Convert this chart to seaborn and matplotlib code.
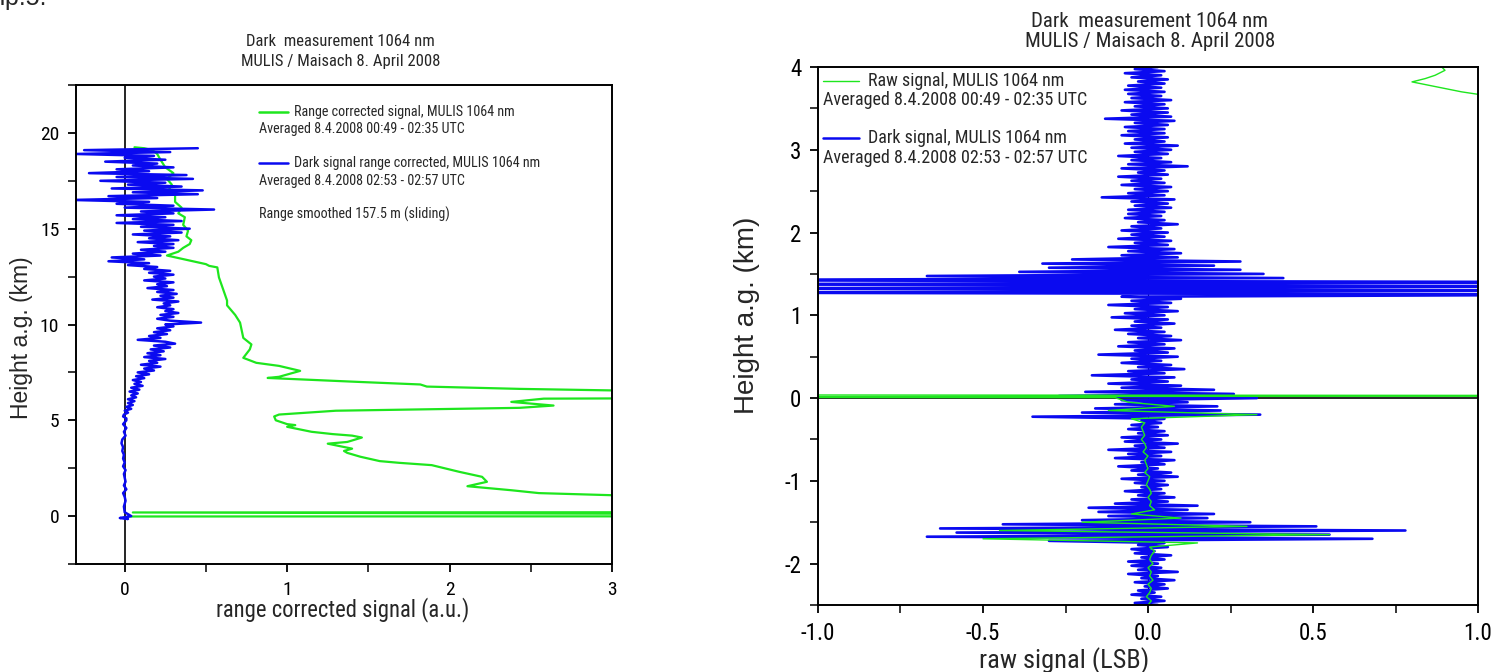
import os
import numpy as np
import matplotlib
matplotlib.use("Agg")
import matplotlib.pyplot as plt
from matplotlib import font_manager, ticker
import seaborn as sns

# --- left panel: range corrected signal (green), ground -> top
rc_x = [0.02, 9.0, 0.05, 9.0, 9.0, 3.0, 2.55, 2.38, 2.11, 2.23, 2.20, 2.06, 1.89, 1.69, 1.57,
        1.45, 1.37, 1.35, 1.40, 1.25, 1.37, 1.46, 1.40, 1.28, 1.15, 1.00, 1.05, 1.00, 0.93,
        0.92, 0.95, 1.30, 2.43, 2.64, 2.38, 2.58, 9.0, 9.0, 3.0, 2.43, 1.86, 1.82, 1.45, 0.88,
        0.95, 1.08, 0.95, 0.81, 0.73, 0.77, 0.78, 0.73, 0.71, 0.68, 0.63, 0.63, 0.58, 0.57,
        0.52, 0.50, 0.26, 0.33, 0.36, 0.40, 0.41, 0.38, 0.39, 0.36, 0.37, 0.33, 0.35, 0.31,
        0.31, 0.27, 0.29, 0.26, 0.30, 0.25, 0.22, 0.20, 0.17, 0.12, 0.06]
rc_h = [-0.02, 0.0, 0.19, 0.22, 1.0, 1.09, 1.20, 1.35, 1.56, 1.79, 2.05, 2.31, 2.66, 2.78, 2.87,
        3.10, 3.30, 3.40, 3.52, 3.78, 3.87, 4.10, 4.20, 4.28, 4.40, 4.66, 4.75, 4.80, 5.00,
        5.20, 5.30, 5.50, 5.65, 5.77, 5.96, 6.13, 6.30, 6.50, 6.56, 6.64, 6.76, 6.87, 7.00, 7.21,
        7.27, 7.58, 7.84, 8.00, 8.26, 8.70, 8.96, 9.30, 10.1, 10.5, 11.0, 11.25, 12.46, 12.98,
        13.06, 13.15, 13.6, 13.8, 14.0, 14.2, 14.4, 14.6, 14.9, 15.2, 15.6, 15.8, 16.1, 16.4,
        16.8, 17.0, 17.3, 17.6, 17.9, 18.2, 18.6, 18.9, 19.1, 19.2, 19.25]

# --- left panel: dark signal range corrected (blue), 19.2 km down to 5.0 km every 0.1 km
dark_rc_grid = np.round(np.arange(19.2, 4.95, -0.1), 1)
dark_rc_vals = [
    0.45, -0.25, 0.28, -0.30, 0.18, 0.00, 0.25, -0.12, 0.20, 0.05,
    0.30, -0.05, 0.15, -0.22, 0.38, -0.05, 0.42, -0.15, 0.25, 0.02,
    0.35, -0.08, 0.48, 0.05, 0.45, -0.10, 0.20, -0.32, 0.15, -0.05,
    0.30, 0.00, 0.55, 0.10, 0.30, -0.05, 0.25, 0.05, 0.35, -0.05,
    0.30, 0.10, 0.40, 0.12, 0.35, 0.05, 0.28, 0.15, 0.33, 0.08,
    0.30, 0.18, 0.30, 0.10, 0.25, 0.05, 0.22, -0.08, 0.12, -0.10,
    0.15, 0.02, 0.20,
    0.12, 0.28, 0.15, 0.30, 0.18, 0.25, 0.12, 0.30, 0.20, 0.26,
    0.14, 0.30, 0.20, 0.32, 0.22, 0.30, 0.17, 0.33, 0.24, 0.28,
    0.20, 0.30, 0.25, 0.33, 0.22, 0.30, 0.20, 0.28, 0.47, 0.25,
    0.30, 0.20, 0.28, 0.18, 0.26, 0.15, 0.22, 0.08, 0.25, 0.31,
    0.18, 0.28, 0.16, 0.24, 0.14, 0.22, 0.12, 0.25, 0.15, 0.20,
    0.10, 0.22, 0.12, 0.18, 0.08, 0.15, 0.07, 0.12, 0.05, 0.10,
    0.06, 0.11, 0.04, 0.09, 0.03, 0.08, 0.04, 0.07, 0.02, 0.06,
    0.02, 0.05, 0.01, 0.04, 0.00,
    0.02, -0.005, -0.01, 0.01, 0.01]
dark_low_h = [4.8, 4.6, 4.4, 4.2, 4.0, 3.8, 3.6, 3.4, 3.2, 3.0, 2.8, 2.6, 2.4, 2.2, 2.0,
              1.8, 1.6, 1.4, 1.2, 1.0, 0.8, 0.5, 0.2, 0.0, -0.1, -0.15, -0.12]
dark_low_x = [-0.01, 0.01, -0.005, 0.005, -0.015, -0.02, -0.01, -0.015, -0.005, -0.01, 0.0,
              -0.01, 0.005, -0.005, 0.0, 0.005, -0.005, 0.01, -0.01, 0.0, 0.005, -0.005, 0.0,
              0.04, -0.03, 0.02, 0.0]

# --- right panel: dark raw signal (blue), -2.5 km to 4.0 km every 0.025 km
dark_raw_grid = np.round(np.arange(-2.5, 4.0001, 0.025), 3)
dark_raw_vals = [
    0.03, -0.04, 0.05, -0.02, 0.04, -0.05, 0.02, -0.03, 0.06, -0.01,
    0.05, -0.04, 0.08, -0.02, 0.03, -0.06, 0.09, -0.03, 0.04, -0.05,
    0.03, -0.06, 0.05, -0.02, 0.07, -0.04, 0.02, -0.05, 0.06, -0.03,
    0.05, -0.30, 0.68, -0.67, 0.55, -0.58, 0.78, -0.63, 0.51, -0.44,
    0.31, -0.20, 0.18, -0.12, 0.20, -0.15, 0.12, -0.18, 0.15, -0.10,
    0.06, -0.05, 0.08, -0.03, 0.05, -0.07, 0.04, -0.02, 0.06, -0.04,
    0.05, -0.08, 0.09, -0.03, 0.07, -0.05, 0.03, -0.09, 0.05, -0.02,
    0.08, -0.10, 0.04, -0.06, 0.07, -0.12, 0.05, -0.04, 0.09, -0.07,
    0.04, -0.08, 0.06, -0.03, 0.05, -0.06, 0.03, -0.05, 0.04, -0.02,
    0.05, -0.35, 0.34, -0.20, 0.22, -0.16, 0.21, -0.10, 0.12, -0.08,
    0.33, -0.27, 0.26, -0.19, 0.20, -0.08, 0.10, -0.12, 0.06, -0.05,
    0.08, -0.17, 0.05, -0.06, 0.11, -0.03, 0.07, -0.08, 0.04, -0.05,
    0.09, -0.15, 0.06, -0.04, 0.08, -0.09, 0.05, -0.06, 0.10, -0.03,
    0.07, -0.06, 0.05, -0.10, 0.04, -0.05, 0.08, -0.04, 0.06, -0.11,
    0.05, -0.07, 0.09, -0.04, 0.06, -0.12, 0.07, -0.05, 0.10, -0.08,
    1.50, -1.50, 1.50, -1.50, 1.50, -1.50, 1.50, -1.50, 0.41, -0.67,
    0.35, -0.39, 0.28, -0.30, 0.20, -0.32, 0.28, -0.23, 0.09, -0.08,
    0.10, -0.06, 0.08, -0.12, 0.06, -0.04, 0.07, -0.09, 0.05, -0.05,
    0.06, -0.08, 0.04, -0.05, 0.09, -0.03, 0.05, -0.07, 0.04, -0.06,
    0.05, -0.06, 0.07, -0.04, 0.06, -0.05, 0.08, -0.14, 0.05, -0.06,
    0.06, -0.04, 0.07, -0.08, 0.05, -0.05, 0.04, -0.09, 0.06, -0.03,
    0.05, -0.08, 0.12, -0.06, 0.07, -0.05, 0.04, -0.09, 0.06, -0.04,
    0.07, -0.05, 0.09, -0.07, 0.05, -0.04, 0.06, -0.08, 0.05, -0.06,
    0.05, -0.07, 0.06, -0.04, 0.08, -0.13, 0.07, -0.05, 0.06, -0.08,
    0.06, -0.04, 0.05, -0.07, 0.07, -0.05, 0.04, -0.06, 0.05, -0.07,
    0.04, -0.06, 0.05, -0.03, 0.06, -0.05, 0.04, -0.07, 0.05, -0.04,
    0.03]

# --- right panel: raw signal (green), -2.5 km to -0.05 km every 0.05 km, then the top part
raw_grid = np.round(np.arange(-2.5, -0.04, 0.05), 2)
raw_vals = [
    0.0, 0.01, -0.005, 0.005, 0.01, 0.0, 0.015, 0.005, 0.01, 0.0,
    0.015, 0.005, 0.01, 0.02, 0.005, 0.15, -0.50, 0.55, -0.45, 0.30,
    -0.20, 0.10, -0.05, 0.02, 0.005, 0.01, 0.0, 0.01, 0.005, -0.005,
    0.0, 0.005, -0.01, 0.0, -0.005, -0.01, 0.0, -0.015, -0.005, -0.01,
    -0.02, -0.01, -0.015, -0.02, -0.01, -0.05, 0.33, -0.12, 0.08, -0.06]
raw_top_h = [0.005, 0.012, 0.028, 0.042, 5.0, 5.0, 3.60, 3.67, 3.70, 3.74, 3.78, 3.82, 3.86,
             3.90, 3.96, 4.00, 4.10]
raw_top_x = [-0.10, -3.0, 3.0, -3.0, -3.0, 3.0, 3.0, 1.00, 0.95, 0.90, 0.85, 0.80, 0.84,
             0.87, 0.90, 0.89, 0.90]

GREEN = "#1ee61e"
BLUE = "#0a0af0"

sns.set_style("ticks")
plt.rcParams["font.family"] = ["Liberation Sans", "DejaVu Sans"]
plt.rcParams["axes.unicode_minus"] = False
plt.rcParams["axes.linewidth"] = 1.4


def find_narrow():
    # look for a narrow / condensed sans face among the installed fonts
    bad = ("Bold", "Italic", "Oblique", "Light", "Medium", "Thin", "Black", "Semi", "Extra")
    found = {}
    for f in font_manager.fontManager.ttflist:
        base = os.path.basename(f.fname)
        if ("Narrow" in base or "Condensed" in base) and not any(b in base for b in bad):
            found[base] = f.fname
    for key in ("LiberationSansNarrow", "RobotoCondensed", "OpenSansCondensed",
                "NotoSans-Condensed", "DejaVuSansCondensed", ""):
        for base, path in sorted(found.items()):
            if base.startswith(key) and "Mono" not in base and "Serif" not in base:
                return path
    return None


NARROW_PATH = find_narrow()
SCALE = 1.0 if NARROW_PATH else 0.86


def nfp(size):
    if NARROW_PATH:
        return font_manager.FontProperties(fname=NARROW_PATH, size=size)
    return font_manager.FontProperties(family="Liberation Sans", size=size * SCALE)


W, H = 1492, 672
fig = plt.figure(figsize=(W / 100, H / 100), dpi=100)
fig.patch.set_facecolor("white")

ax1 = fig.add_axes([76 / W, 1 - 564 / H, 536 / W, 479 / H])
ax2 = fig.add_axes([818 / W, 1 - 605 / H, 660 / W, 538 / H])

# left panel
ax1.axvline(0, color="black", lw=1.2, zorder=1)
sns.lineplot(x=rc_x, y=rc_h, sort=False, estimator=None, color=GREEN, lw=1.6, ax=ax1)
sns.lineplot(x=list(dark_rc_vals) + dark_low_x, y=list(dark_rc_grid) + dark_low_h,
             sort=False, estimator=None, color=BLUE, lw=1.8, ax=ax1)
ax1.set_xlim(-0.3, 3)
ax1.set_ylim(-2.5, 22.5)
ax1.xaxis.set_major_locator(ticker.MultipleLocator(1))
ax1.xaxis.set_minor_locator(ticker.MultipleLocator(0.5))
ax1.yaxis.set_major_locator(ticker.MultipleLocator(5))
ax1.yaxis.set_minor_locator(ticker.MultipleLocator(2.5))

# right panel
ax2.axhline(0, color="black", lw=1.2, zorder=1)
ax2.axvline(0, color="black", lw=0.8, zorder=1)
sns.lineplot(x=dark_raw_vals, y=dark_raw_grid, sort=False, estimator=None,
             color=BLUE, lw=1.9, ax=ax2)
sns.lineplot(x=raw_vals + raw_top_x, y=list(raw_grid) + raw_top_h, sort=False,
             estimator=None, color=GREEN, lw=1.0, ax=ax2)
ax2.set_xlim(-1, 1)
ax2.set_ylim(-2.5, 4)
ax2.xaxis.set_major_locator(ticker.MultipleLocator(0.5))
ax2.xaxis.set_minor_locator(ticker.MultipleLocator(0.25))
ax2.xaxis.set_major_formatter(ticker.FormatStrFormatter("%.1f"))
ax2.yaxis.set_major_locator(ticker.MultipleLocator(1))
ax2.yaxis.set_minor_locator(ticker.MultipleLocator(0.5))

for ax, fs in ((ax1, 14), (ax2, 16.5)):
    for s in ax.spines.values():
        s.set_visible(True)
        s.set_color("black")
    ax.tick_params(which="major", direction="out", length=6, width=1.3, pad=6, colors="black")
    ax.tick_params(which="minor", direction="out", length=6, width=1.3)
    for lab in ax.get_xticklabels() + ax.get_yticklabels():
        lab.set_fontproperties(nfp(fs))

ax1.set_xlabel("range corrected signal (a.u.)", fontproperties=nfp(16.3))
ax1.set_ylabel("Height a.g. (km)", fontsize=16.5)
ax1.xaxis.set_label_coords(0.498, -0.069)
ax1.yaxis.set_label_coords(-0.080, 0.472)
ax2.set_xlabel("raw signal (LSB)", fontproperties=nfp(19))
ax2.set_ylabel("Height a.g. (km)", fontsize=20)
ax2.xaxis.set_label_coords(0.373, -0.078)
ax2.yaxis.set_label_coords(-0.088, 0.539)

# titles
for txt, y in (("Dark  measurement 1064 nm", 1.0898), ("MULIS / Maisach 8. April 2008", 1.050)):
    ax1.text(0.494, y, txt, transform=ax1.transAxes, ha="center", va="center",
             fontproperties=nfp(12))
for txt, y in (("Dark  measurement 1064 nm", 1.0855), ("MULIS / Maisach 8. April 2008", 1.0465)):
    ax2.text(0.503, y, txt, transform=ax2.transAxes, ha="center", va="center",
             fontproperties=nfp(15))

# hand-drawn legend entries (left)
lfs = 10.2
ax1.plot([0.341, 0.396], [0.9436, 0.9436], transform=ax1.transAxes, color=GREEN, lw=1.8)
ax1.text(0.407, 0.9436, "Range corrected signal, MULIS 1064 nm", transform=ax1.transAxes,
         va="center", fontproperties=nfp(lfs))
ax1.text(0.341, 0.908, "Averaged 8.4.2008 00:49 - 02:35 UTC", transform=ax1.transAxes,
         va="center", fontproperties=nfp(lfs))
ax1.plot([0.341, 0.396], [0.837, 0.837], transform=ax1.transAxes, color=BLUE, lw=1.8)
ax1.text(0.407, 0.837, "Dark signal range corrected, MULIS 1064 nm", transform=ax1.transAxes,
         va="center", fontproperties=nfp(lfs))
ax1.text(0.341, 0.800, "Averaged 8.4.2008 02:53 - 02:57 UTC", transform=ax1.transAxes,
         va="center", fontproperties=nfp(lfs))
ax1.text(0.341, 0.729, "Range smoothed 157.5 m (sliding)", transform=ax1.transAxes,
         va="center", fontproperties=nfp(lfs))

# hand-drawn legend entries (right)
rfs = 13
ax2.plot([0.008, 0.062], [0.974, 0.974], transform=ax2.transAxes, color=GREEN, lw=1.0)
ax2.text(0.075, 0.974, "Raw signal, MULIS 1064 nm", transform=ax2.transAxes,
         va="center", fontproperties=nfp(rfs))
ax2.text(0.008, 0.939, "Averaged 8.4.2008 00:49 - 02:35 UTC", transform=ax2.transAxes,
         va="center", fontproperties=nfp(rfs))
ax2.plot([0.008, 0.062], [0.868, 0.868], transform=ax2.transAxes, color=BLUE, lw=1.8)
ax2.text(0.075, 0.868, "Dark signal, MULIS 1064 nm", transform=ax2.transAxes,
         va="center", fontproperties=nfp(rfs))
ax2.text(0.008, 0.831, "Averaged 8.4.2008 02:53 - 02:57 UTC", transform=ax2.transAxes,
         va="center", fontproperties=nfp(rfs))

# cut-off caption fragment at the very top
fig.text(-0.001, 1 - 5 / H, "ıp.5:", fontsize=18, va="baseline", ha="left")

fig.savefig("out.png", dpi=100)
